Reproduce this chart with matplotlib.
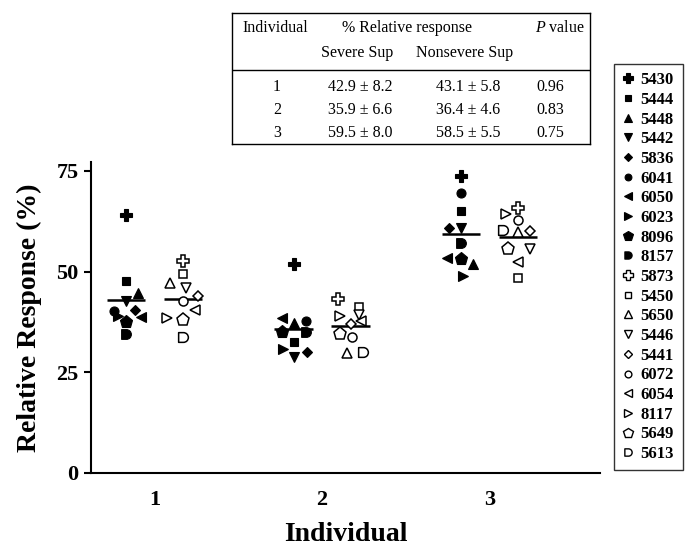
import numpy as np
import matplotlib
matplotlib.use("Agg")
import matplotlib.pyplot as plt
from matplotlib.path import Path
from matplotlib.lines import Line2D

plt.rcParams['font.family'] = ['Liberation Serif', 'DejaVu Serif']
plt.rcParams['mathtext.fontset'] = 'custom'
plt.rcParams['mathtext.rm'] = 'Liberation Serif'
plt.rcParams['mathtext.it'] = 'Liberation Serif:italic'

# ---------------- data ----------------
groups = ["1", "2", "3"]
severe_ids = ["5430", "5444", "5448", "5442", "5836", "6041", "6050", "6023", "8096", "8157"]
nonsevere_ids = ["5873", "5450", "5650", "5446", "5441", "6072", "6054", "8117", "5649", "5613"]

# relative response (%) per individual, order follows the id lists above
severe_g1 = [64.0, 47.7, 44.7, 42.8, 40.4, 40.3, 38.8, 39.0, 37.5, 34.5]
severe_g2 = [52.0, 32.6, 37.3, 28.7, 30.1, 37.8, 38.5, 30.7, 35.1, 35.1]
severe_g3 = [73.8, 65.1, 51.9, 60.9, 60.7, 69.4, 53.3, 49.0, 53.1, 57.1]
nonsev_g1 = [52.6, 49.5, 47.1, 45.8, 44.0, 42.7, 40.4, 38.5, 38.1, 33.7]
nonsev_g2 = [43.1, 41.3, 29.7, 39.2, 37.1, 33.8, 37.8, 39.0, 34.4, 30.1]
nonsev_g3 = [65.8, 48.3, 59.9, 55.5, 60.1, 62.8, 52.4, 64.2, 55.5, 60.3]

table_header = ["Individual", "% Relative response", "$P$ value"]
table_sub = ["Severe Sup", "Nonsevere Sup"]
table_ind = ["1", "2", "3"]
table_sev = ["42.9 \u00b1 8.2", "35.9 \u00b1 6.6", "59.5 \u00b1 8.0"]
table_non = ["43.1 \u00b1 5.8", "36.4 \u00b1 4.6", "58.5 \u00b1 5.5"]
table_p = ["0.96", "0.83", "0.75"]

# ---------------- layout (scatter slot offsets, in marker widths) ----------------
sev_slots = [
    [0, 0, 1.0, 0, 0.75, -1.0, 1.2, -0.7, 0, 0],
    [0, 0, 0, 0, 1.1, 1.0, -1.0, -0.9, -1.0, 1.0],
    [0, 0, 1.0, 0, -1.0, 0, -1.2, 0.2, 0, 0],
]
non_slots = [
    [0, 0, -1.1, 0.25, 1.25, 0, 1.0, -1.3, 0, 0],
    [-1.0, 0.7, -0.3, 0.7, 0, 0.1, 0.85, -0.9, -0.85, 1.0],
    [0, 0, 0, 1.0, 1.0, 0, 0, -1.0, -0.8, -1.2],
]
slot = 0.072
col_off = 0.17
half_line = 0.115

# D-shaped marker
arc = Path.arc(-90, 90)
dverts = [(-1, -1)] + [tuple(v) for v in arc.vertices] + [(-1, 1), (-1, -1)]
dcodes = [Path.MOVETO, Path.LINETO] + list(arc.codes[1:]) + [Path.LINETO, Path.CLOSEPOLY]
dshape = Path(dverts, dcodes)

markers = ['P', 's', '^', 'v', 'D', 'o', '<', '>', 'p', dshape]
msizes = [8.8, 6.0, 7.0, 7.0, 5.2, 6.5, 7.0, 7.0, 9.5, 7.0]

fig = plt.figure(figsize=(6.91, 5.56), dpi=100)
ax = fig.add_axes([91/691, 1-473/556, (600-91)/691, (473-162)/556])

sev_all = [severe_g1, severe_g2, severe_g3]
non_all = [nonsev_g1, nonsev_g2, nonsev_g3]
for gi in range(3):
    xs = gi + 1 - col_off
    xn = gi + 1 + col_off
    for k in range(10):
        ax.plot(xs + sev_slots[gi][k]*slot, sev_all[gi][k], marker=markers[k], ms=msizes[k],
                mfc='black', mec='black', mew=0.8, ls='none', zorder=3)
        ax.plot(xn + non_slots[gi][k]*slot, non_all[gi][k], marker=markers[k], ms=msizes[k],
                mfc='white', mec='black', mew=1.1, ls='none', zorder=3)
    ax.hlines(np.mean(sev_all[gi]), xs - half_line, xs + half_line, color='black', lw=1.8, zorder=2)
    ax.hlines(np.mean(non_all[gi]), xn - half_line, xn + half_line, color='black', lw=1.8, zorder=2)

ax.set_xlim(0.62, 3.66)
ax.set_ylim(0, 77.2)
ax.set_yticks([0, 25, 50, 75])
ax.set_xticks([1, 2, 3])
ax.set_xticklabels(groups)
for s in ['top', 'right']:
    ax.spines[s].set_visible(False)
for s in ['left', 'bottom']:
    ax.spines[s].set_linewidth(1.5)
ax.tick_params(axis='y', direction='out', length=5, width=1.5, labelsize=16, pad=4)
ax.tick_params(axis='x', direction='out', length=0, width=1.5, labelsize=16, pad=12)
for lab in ax.get_xticklabels() + ax.get_yticklabels():
    lab.set_fontweight('bold')
ax.set_ylabel("Relative Response (%)", fontsize=20, fontweight='bold', labelpad=10)
ax.set_xlabel("Individual", fontsize=20, fontweight='bold', labelpad=9)

# legend
handles = []
for k in range(10):
    handles.append(Line2D([], [], marker=markers[k], ms=msizes[k]*0.75, mfc='black', mec='black',
                          mew=0.8, ls='none'))
for k in range(10):
    handles.append(Line2D([], [], marker=markers[k], ms=msizes[k]*0.75, mfc='white', mec='black',
                          mew=1.0, ls='none'))
leg = fig.legend(handles, severe_ids + nonsevere_ids, loc='upper left',
                 bbox_to_anchor=(614/691, 1-64/556), frameon=True, fancybox=False,
                 edgecolor='black', handlelength=0.7, handletextpad=0.4, labelspacing=0.22,
                 borderpad=0.5, borderaxespad=0,
                 prop={'family': 'Liberation Serif', 'weight': 'bold', 'size': 12})
leg.get_frame().set_linewidth(1.0)

# table
tab = fig.add_axes([232/691, 1-144/556, (590-232)/691, (144-13)/556])
tab.set_xlim(0, 358)
tab.set_ylim(131, 0)
tab.set_xticks([])
tab.set_yticks([])
for s in tab.spines.values():
    s.set_linewidth(1.0)
tab.axhline(57, color='black', lw=1.0)
fs = 11.5
hx = [43, 175, 328]
for x, t in zip(hx, table_header):
    tab.text(x, 15, t, ha='center', va='center', fontsize=fs)
for x, t in zip([125, 233], table_sub):
    tab.text(x, 40, t, ha='center', va='center', fontsize=fs)
for i in range(3):
    y = 74 + 23*i
    tab.text(45, y, table_ind[i], ha='center', va='center', fontsize=fs)
    tab.text(128, y, table_sev[i], ha='center', va='center', fontsize=fs)
    tab.text(236, y, table_non[i], ha='center', va='center', fontsize=fs)
    tab.text(318, y, table_p[i], ha='center', va='center', fontsize=fs)

fig.savefig("out.png", dpi=100)
